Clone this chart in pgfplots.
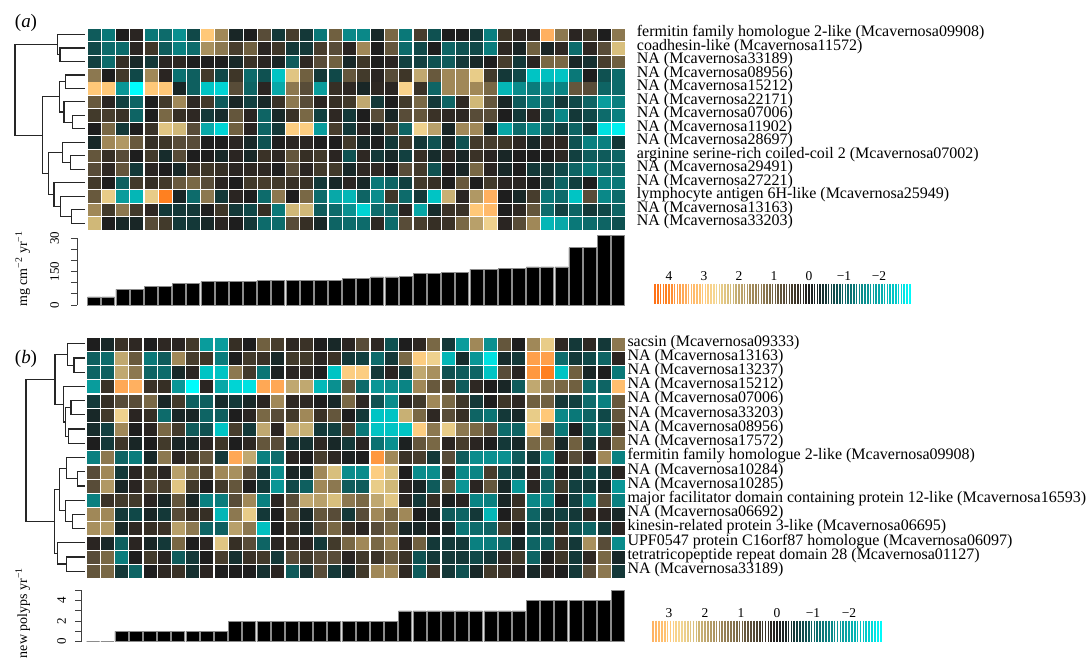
\documentclass[border=0pt]{standalone}
\usepackage{fontspec}
\setmainfont{Liberation Serif}
\usepackage{pgfplots}
\usepackage{pgfplotstable}
\pgfplotsset{compat=1.18}

\pgfplotsset{
 colormap={heat}{rgb255(0pt)=(0,255,255); rgb255(32pt)=(0,212,212); rgb255(52pt)=(0,196,196);
  rgb255(92pt)=(8,168,168); rgb255(132pt)=(10,144,144); rgb255(162pt)=(10,120,120);
  rgb255(192pt)=(14,100,100); rgb255(222pt)=(16,72,72); rgb255(242pt)=(20,56,56);
  rgb255(262pt)=(24,40,40); rgb255(292pt)=(30,30,30); rgb255(312pt)=(46,40,35);
  rgb255(332pt)=(62,54,40); rgb255(362pt)=(88,76,56); rgb255(392pt)=(112,96,64);
  rgb255(422pt)=(140,120,80); rgb255(452pt)=(160,136,88); rgb255(492pt)=(192,168,112);
  rgb255(512pt)=(208,184,120); rgb255(542pt)=(232,204,136); rgb255(562pt)=(245,215,148);
  rgb255(592pt)=(255,200,120); rgb255(642pt)=(255,176,96); rgb255(702pt)=(255,128,32);
  rgb255(738pt)=(255,110,20)},
 heat/.style={scale only axis, axis line style={draw=none}, xtick=\empty, major tick length=0pt,
  y dir=reverse, xmin=-0.5, xmax=37.5, point meta min=-2.92, point meta max=4.46,
  colormap name=heat, clip=false, yticklabel pos=right,
  yticklabel style={anchor=mid west, inner sep=0pt, font=\fontsize{16}{16}\selectfont}},
 cell/.style={scatter, only marks, mark=square*, point meta=explicit,
  scatter/use mapped color={draw=mapped color, fill=mapped color, line width=0.3pt}},
 dl/.style={black!85, line width=1.2pt, mark=none},
 dendro/.style={scale only axis, hide axis, y dir=reverse, clip=false, xmin=0},
 bars/.style={scale only axis, axis x line=none, axis y line*=left, clip=false,
  tick align=outside, major tick length=6pt,
  y axis line style={black!75, line width=0.8pt}, ytick style={black!75, line width=0.8pt},
  ylabel style={anchor=center, font=\fontsize{14}{14}\selectfont}},
 barplot/.style={ybar, bar width=13pt, fill=black, draw=black!45, line width=0.5pt},
 leg/.style={scale only axis, axis line style={draw=none}, ytick=\empty, major tick length=0pt,
  x dir=reverse, xmin=-2.92, ymin=-1, ymax=1, xticklabel pos=upper, clip=false,
  colormap name=heat, point meta min=-2.92, point meta max=4.46,
  xticklabel style={font=\fontsize{13.5}{13.5}\selectfont}},
 legplot/.style={scatter, only marks, mark=|, point meta=x,
  scatter/use mapped color={draw=mapped color, line width=1.7pt}},
}

\pgfplotstableread[header=false]{
-0.9 -1.3 0 0.15 -1.3 -1.1 -1.6 -0.7 3.0 1.6 -0.25 0 0.7 -0.5 0.5 -0.5 -1.3 1.0 -1.5 -1.5 -0.3 1.1 -1.3 0.5 -0.8 0 0 -0.5 -1.4 0.4 0.2 0.2 3.5 1.3 0.15 0.45 0 1.3
-0.7 -1.1 -1.1 0.15 0.4 -0.9 -1.4 -1.1 1.7 1.3 0.5 1.0 0.15 0.4 -0.5 -0.5 0.5 0.7 0.15 1.6 0 0.85 -1.1 -0.7 0 -1.0 -0.8 -0.7 -1.35 0.2 -0.2 1.0 -0.2 0.2 -1.1 0.2 0.7 2.3
-0.6 -1.1 0.3 -0.3 -0.5 0.15 0.2 0 0 0 -0.3 0.35 0.15 -0.25 -0.9 0.2 0.7 1.0 -0.3 0.4 0 0.15 -0.6 -0.6 -0.8 -0.9 -0.5 -0.3 0 0.5 -0.5 0.15 1.1 1.1 -0.25 -0.4 0.5 1.0
1.3 0 0.45 -0.7 1.6 0.15 -1.2 -0.95 0.45 -0.7 0.4 -1.1 -0.8 -2.4 2.4 1.0 -0.5 -0.7 0.85 0.45 0.15 0.7 0.4 2.0 0.9 1.6 1.6 2.5 0.45 -0.5 -0.7 -2.4 -2.35 -2.4 -1.3 0 -0.8 -1.1
3.0 3.0 -1.7 -2.9 3.0 3.0 -0.25 -0.95 -2.4 -2.6 0.7 -1.0 0.15 -2.0 1.3 0.7 -1.8 0.3 0.2 -0.25 0.2 0.15 2.8 0.35 -1.0 1.6 1.6 1.6 1.1 -2.2 -1.55 -1.35 -1.5 -1.45 0.85 0.7 -1.0 -1.1
0.9 0.15 -0.6 -1.0 0 0.45 1.6 0.2 0.45 -0.9 -0.25 -0.6 -0.3 0.35 1.3 0.7 0.15 0.3 0.45 2.0 -0.5 0 0.45 1.1 -0.5 -1.0 0.2 2.2 0.85 -0.25 -0.9 -1.3 -1.0 -0.5 -0.7 -1.0 -1.8 -1.4
0.45 0.5 0.35 -1.0 0 1.1 0.3 0.2 -0.5 -0.35 0.85 0.15 -1.0 -0.3 0.35 1.1 -0.6 0.2 -0.5 0 0.7 -0.25 0.7 0.85 0.35 0.2 0.2 0.7 0.7 0 -0.5 0.15 -0.8 -1.5 -0.5 -0.7 -1.1 -1.4
0 1.1 -0.5 0 0.35 2.4 2.2 0.7 -2.0 -2.6 1.0 0.15 -1.0 -0.5 2.9 2.9 -1.8 0.5 -0.5 0.15 -0.25 0.5 -1.0 2.6 1.9 -0.25 1.6 1.6 -0.25 -1.95 -1.1 -1.5 -0.9 -0.6 -1.0 -0.5 -2.7 -2.8
-0.3 1.6 1.8 0.9 0.3 0.4 0.7 0.7 0 0 0.15 -0.3 -0.8 0 0.15 0.15 0 0 0.45 -0.3 0 -0.5 0.45 -0.5 -0.8 -0.25 -0.8 0.45 0.5 0.4 0.2 -0.3 0.15 0.2 -0.8 -1.4 -1.4 -0.5
0.85 0.3 0.7 0 0.45 -0.35 0.7 0 0 -0.3 0.15 -0.3 0.35 0.2 0.85 0.3 0.45 0.15 -0.8 0.2 -0.5 -0.3 -0.6 0.3 -0.35 0.2 -0.25 0.35 0.15 -0.25 0 0 0 0.2 -0.6 -0.9 -0.9 -1.0
0.7 0.2 0.85 -0.5 0.15 0 -0.3 0.35 0.4 0.3 0.15 0.2 0.2 0 0.7 0.15 0.45 0.45 -0.3 0.2 0.2 0 0.7 0.45 -0.8 0 -0.25 1.1 0.15 -0.3 0 -0.5 -0.5 -0.7 -1.0 -1.3 -1.1 -1.1
0.45 0 -0.95 0.45 0.3 0.45 0.9 1.1 0.7 0.15 0 0.45 0.5 0.45 0.3 0.35 -0.5 -0.3 0.15 -0.3 -1.3 -1.0 -0.6 0.45 0.3 0 0.9 0 0.45 0.15 0.15 0 -0.5 -1.0 -0.6 0 -1.4 -1.3
0.9 2.5 -1.8 -2.2 2.5 4.1 -0.25 -1.1 1.3 -0.5 0.15 0 -1.1 1.3 0 1.1 -1.1 -2.0 -2.2 -1.0 -1.55 0.4 -1.1 -0.5 -2.4 2.1 0.15 1.8 3.5 0 -0.3 0.5 -1.3 -1.1 -2.4 0.7 -1.5 -1.1
1.6 0.45 1.3 0.45 0.2 -0.5 -0.5 -0.5 0 0.4 -0.5 -0.7 0.3 -1.3 2.2 2.2 -0.9 -1.1 -1.6 -2.6 -1.1 -1.0 0.15 -1.95 -0.35 0.35 0.35 3.0 3.3 0 0.2 0.85 -1.1 -0.6 -1.0 -0.5 -0.7 -1.0
2.2 0 -0.3 -0.25 0.7 0.45 -0.5 -0.5 -0.3 0.15 0 -0.5 -1.1 -1.1 0.7 0.3 -0.3 -1.0 -1.1 -1.1 0.2 -1.1 0.7 0.5 0.3 0.35 1.1 1.9 2.6 0.15 0.7 1.6 -2.2 -2.0 -1.3 -1.1 -1.0 -0.8
}\heatA

\pgfplotstableread[header=false]{
0 -0.3 0.35 0.2 0 0.2 0.15 0.45 -1.8 -1.8 0.3 0 1.0 0.5 0.2 0.35 0 -0.3 0.15 0.7 0.2 -0.8 0 0.2 1.1 -0.5 -1.8 1.6 -1.6 0.85 0 1.6 2.5 0.2 -0.5 0.2 -0.5 1.3
-0.95 -1.1 2.0 0.9 -1.3 -0.9 1.6 0.5 0.4 -1.35 0 0.45 0.35 -0.3 0.45 0.45 0.15 0.35 -0.5 -0.6 -1.1 -0.5 1.1 2.9 2.6 -2.2 -0.35 -1.7 -2.7 -0.35 -0.5 3.7 3.7 -1.1 -0.5 -0.7 -1.0 0.15
-1.0 -0.95 2.0 1.3 -1.0 -1.1 -0.3 0.15 -2.4 -2.4 1.3 0.45 -1.25 -0.1 0.15 0.2 0 -2.4 2.9 2.9 -0.5 0.15 -0.5 2.0 1.7 -0.8 -0.9 -1.0 -2.4 0.7 0.15 3.8 4.1 -2.4 1.0 -0.25 0 -1.3
-1.8 0.35 3.6 3.5 0.35 0.3 -1.7 -2.9 0.15 -2.0 -2.6 -2.7 3.6 3.6 2.0 2.0 -2.25 -1.6 0.85 -1.1 -1.7 -1.55 -1.45 1.6 0.9 0.45 -0.9 0.2 0 -0.25 -0.9 2.0 1.3 1.1 1.0 -1.1 -1.0 3.2
-0.5 0.3 0.7 0.7 1.1 -0.25 0.45 -0.95 -0.95 -0.35 -0.5 -0.3 0.15 1.6 0.2 0.2 0 -0.3 1.1 0.2 -0.8 -1.55 0.15 0.45 1.6 1.1 0.4 -0.5 0 0.4 0.2 1.0 1.0 -0.5 -0.6 -1.1 -1.4 0.9
-0.3 0.45 2.6 0.15 0.3 -1.1 -0.25 -0.25 -1.0 -0.95 0 0.15 1.1 0.7 0.45 1.6 0.35 0.85 0 -0.5 -2.4 -2.4 2.1 1.1 0.2 0.7 0.3 -1.0 -1.25 -0.5 -0.3 2.5 3.0 -1.5 -1.3 -1.0 -0.7 0.85
-0.35 -0.6 1.6 0 0.15 1.1 0.45 -0.9 -0.8 -2.4 0.5 -0.5 2.0 0.15 2.0 2.1 -0.5 -0.6 0.5 -1.3 -2.4 -2.4 -2.4 2.9 1.3 2.5 1.3 1.1 0.7 -1.1 -1.0 2.9 0.7 -1.3 0 -0.95 -1.1 0.5
0 -0.5 0.4 -0.25 0 0.45 -0.25 -0.25 0.15 0.4 0 0.2 0.85 0.7 -0.4 -0.4 0.2 -0.3 -0.5 0.15 -1.2 -1.6 -0.1 0.85 1.1 0.15 0.5 0.15 0 -0.5 -0.3 1.1 1.1 -0.3 1.0 -0.5 0.2 1.1
-1.4 1.3 -1.0 -1.35 -0.3 1.3 0.15 0.4 0.85 -0.5 3.6 2.0 -1.4 -1.1 0.15 0 0.5 0.2 -0.1 0 3.8 1.6 0.35 0.5 -0.5 0.7 -0.9 -1.55 -1.6 -1.6 -0.9 -0.5 -1.55 0.15 0.7 0.15 1.6 -1.4
0.7 1.6 -0.5 0.15 0.45 0.15 1.9 1.1 0.5 1.6 1.7 0.7 -0.5 -1.55 -0.25 -0.3 1.6 2.3 -1.55 -1.55 2.9 2.3 0 -1.55 -1.55 0.2 -1.5 -1.45 0.5 -0.7 -0.5 0.15 -0.9 0 -0.35 -0.8 -0.5 0.15
0.7 1.8 -0.25 0.15 0.7 0.5 2.4 0.45 0 0.45 0.85 0 -0.5 -1.7 -0.7 -0.95 1.6 1.3 -0.9 -0.9 2.5 2.2 0.15 -0.25 -0.9 0.85 -1.7 0.15 0.85 -0.3 -1.7 0.15 -1.0 0.45 -0.6 -0.5 -0.25 -1.7
-1.4 0.35 0.45 0.45 0.15 -0.25 0.85 -0.25 -1.4 -1.35 0.7 1.6 -1.4 0.15 0.7 2.0 1.9 2.3 1.3 1.1 2.0 2.4 0.15 -0.5 0.3 -0.1 0.15 -1.45 -1.4 -0.25 0.3 -1.5 -1.4 0 -0.6 -1.4 0.7 -1.4
1.6 1.6 -0.5 -0.7 -0.25 -0.5 0.7 0.3 0.3 -2.2 1.3 2.5 -0.5 0 0.85 -0.3 0.85 0.7 -0.5 0.7 1.6 1.1 1.6 0 -0.25 -0.9 -1.0 -0.5 -2.2 0 0.45 -1.0 -0.5 -0.6 -0.5 0.2 0.15 -0.3
1.7 1.8 -0.3 0.2 0.3 0.35 1.9 1.3 -1.0 -0.95 1.9 1.3 -2.35 0 0.35 -0.25 0.7 1.1 0.35 0.15 0.7 1.1 -0.25 -0.25 0 -0.25 -1.25 -1.1 -1.0 0.45 0 -0.7 -0.5 0.3 -0.8 -1.0 -0.5 0.15
0.15 -0.3 -0.95 0.15 -0.25 -0.5 1.1 0 0.15 2.4 0.3 0.7 -1.0 0.15 0.3 0.15 -0.5 0.45 1.1 1.6 1.1 1.6 0.15 1.0 -0.5 -0.5 -0.5 -1.4 -1.35 -1.0 -0.25 -1.0 -0.95 0.35 -0.5 1.7 0.7 -1.55
0.7 1.1 -1.35 0 0.45 0.15 -0.9 -0.5 0 0.5 -0.4 0.35 0.45 -0.5 0.7 0.45 0.7 0.7 0.15 0.45 0.35 0.85 0.35 -0.8 -0.5 -0.5 -0.5 -0.7 -0.5 0.2 0.45 -1.0 0 0.4 -0.5 0.2 1.1 -0.3
0.85 1.1 -0.5 -1.0 0 0.2 0.35 -0.4 0.15 0 0 0 -0.4 0.15 -0.9 -0.4 0.7 -0.5 -0.3 0.45 1.6 1.6 0.2 -0.9 0.35 -0.5 -0.8 -0.3 0.45 0.35 0.15 -0.3 0.15 0 -0.5 0.7 1.3 -0.5
}\heatB

\pgfplotstableread{
v z
4.40 0
4.32 0
4.24 0
4.16 0
4.08 0
4.00 0
3.92 0
3.84 0
3.76 0
3.68 0
3.60 0
3.52 0
3.44 0
3.36 0
3.28 0
3.20 0
3.12 0
3.04 0
2.96 0
2.88 0
2.80 0
2.72 0
2.64 0
2.56 0
2.48 0
2.40 0
2.32 0
2.24 0
2.16 0
2.08 0
2.00 0
1.92 0
1.84 0
1.76 0
1.68 0
1.60 0
1.52 0
1.44 0
1.36 0
1.28 0
1.20 0
1.12 0
1.04 0
0.96 0
0.88 0
0.80 0
0.72 0
0.64 0
0.56 0
0.48 0
0.40 0
0.32 0
0.24 0
0.16 0
0.08 0
0.00 0
-0.08 0
-0.16 0
-0.24 0
-0.32 0
-0.40 0
-0.48 0
-0.56 0
-0.64 0
-0.72 0
-0.80 0
-0.88 0
-0.96 0
-1.04 0
-1.12 0
-1.20 0
-1.28 0
-1.36 0
-1.44 0
-1.52 0
-1.60 0
-1.68 0
-1.76 0
-1.84 0
-1.92 0
-2.00 0
-2.08 0
-2.16 0
-2.24 0
-2.32 0
-2.40 0
-2.48 0
-2.56 0
-2.64 0
-2.72 0
-2.80 0
-2.88 0
}\legvals

\begin{document}
\begin{tikzpicture}[x=1pt,y=1pt]
\path[use as bounding box] (0,0) rectangle (1086,670);

% ---------------- panel (a) heatmap ----------------
\begin{axis}[heat, at={(87pt,440pt)}, anchor=south west, width=538pt, height=202.3pt,
  ymin=-0.5, ymax=14.5, ytick={0,...,14},
  yticklabel style={xshift=11.7pt},
  yticklabels={fermitin family homologue 2-like (Mcavernosa09908),
   coadhesin-like (Mcavernosa11572), NA (Mcavernosa33189), NA (Mcavernosa08956),
   NA (Mcavernosa15212), NA (Mcavernosa22171), NA (Mcavernosa07006),
   NA (Mcavernosa11902), NA (Mcavernosa28697),
   arginine serine-rich coiled-coil 2 (Mcavernosa07002), NA (Mcavernosa29491),
   NA (Mcavernosa27221), lymphocyte antigen 6H-like (Mcavernosa25949),
   NA (Mcavernosa13163), NA (Mcavernosa33203)}]
\pgfplotsinvokeforeach{0,...,37}{
  \addplot[cell, mark size=5.75pt, mark options={xscale=1.05}]
    table[x expr=#1, y expr=\coordindex, meta index=#1] {\heatA};
}
\end{axis}

% dendrogram (a)
\begin{axis}[dendro, at={(0pt,440pt)}, anchor=south west, width=87pt, height=202.3pt,
  xmax=87, ymin=-0.5, ymax=14.5]
\addplot[dl] coordinates {(85,1) (60,1) (60,2) (85,2)};
\addplot[dl] coordinates {(85,0) (57.5,0) (57.5,1.5) (60,1.5)};
\addplot[dl] coordinates {(85,3) (65.7,3) (65.7,4) (85,4)};
\addplot[dl] coordinates {(85,6) (72.3,6) (72.3,7) (85,7)};
\addplot[dl] coordinates {(85,5) (64,5) (64,6.5) (72.3,6.5)};
\addplot[dl] coordinates {(65.7,3.5) (59.3,3.5) (59.3,5.75) (64,5.75)};
\addplot[dl] coordinates {(85,9) (70.7,9) (70.7,10) (85,10)};
\addplot[dl] coordinates {(85,8) (62.3,8) (62.3,9.5) (70.7,9.5)};
\addplot[dl] coordinates {(85,13) (71.7,13) (71.7,14) (85,14)};
\addplot[dl] coordinates {(85,12) (60.7,12) (60.7,13.5) (71.7,13.5)};
\addplot[dl] coordinates {(85,11) (54,11) (54,12.75) (60.7,12.75)};
\addplot[dl] coordinates {(62.3,8.75) (48.3,8.75) (48.3,11.875) (54,11.875)};
\addplot[dl] coordinates {(59.3,4.625) (42.3,4.625) (42.3,10.3125) (48.3,10.3125)};
\addplot[dl] coordinates {(57.5,0.75) (15,0.75) (15,7.469) (42.3,7.469)};
\end{axis}

% bars (a)
\begin{axis}[bars, at={(77pt,365pt)}, anchor=south west, width=548pt, height=66.7pt,
  xmin=-1.206, xmax=37.5, ymin=0, ymax=300,
  ytick={0,50,...,300}, yticklabels={0,,,150,,,30},
  yticklabel style={xshift=-8.5pt, rotate=90, anchor=south, font=\fontsize{13}{13}\selectfont},
  ylabel={mg cm\textsuperscript{−2} yr\textsuperscript{−1}},
  ylabel style={at={(axis description cs:-0.099,0.54)}}]
\addplot[barplot] coordinates {(0,37) (1,37) (2,70) (3,70) (4,84) (5,84) (6,97) (7,97)
 (8,105) (9,105) (10,106) (11,106) (12,111) (13,111) (14,111) (15,111) (16,112) (17,112)
 (18,120) (19,120) (20,126) (21,126) (22,129) (23,142) (24,142) (25,148) (26,148)
 (27,160) (28,160) (29,165) (30,165) (31,172) (32,172) (33,172) (34,258) (35,258)
 (36,312) (37,312)};
\end{axis}

% legend (a)
\begin{axis}[leg, at={(652.9pt,366pt)}, anchor=south west, width=258.3pt, height=20pt,
  xmax=4.46, xtick={-2,...,4}, xticklabels={−2,−1,0,1,2,3,4}]
\addplot[legplot, mark size=10pt] table[x=v, y=z] {\legvals};
\end{axis}

% ---------------- panel (b) heatmap ----------------
\begin{axis}[heat, at={(86pt,91.7pt)}, anchor=south west, width=539pt, height=241.6pt,
  ymin=-0.5, ymax=16.5, ytick={0,...,16},
  yticklabel style={xshift=2.3pt},
  yticklabels={sacsin (Mcavernosa09333), NA (Mcavernosa13163), NA (Mcavernosa13237),
   NA (Mcavernosa15212), NA (Mcavernosa07006), NA (Mcavernosa33203),
   NA (Mcavernosa08956), NA (Mcavernosa17572),
   fermitin family homologue 2-like (Mcavernosa09908), NA (Mcavernosa10284),
   NA (Mcavernosa10285),
   major facilitator domain containing protein 12-like (Mcavernosa16593),
   NA (Mcavernosa06692), kinesin-related protein 3-like (Mcavernosa06695),
   UPF0547 protein C16orf87 homologue (Mcavernosa06097),
   tetratricopeptide repeat domain 28 (Mcavernosa01127), NA (Mcavernosa33189)}]
\pgfplotsinvokeforeach{0,...,37}{
  \addplot[cell, mark size=6.0pt]
    table[x expr=#1, y expr=\coordindex, meta index=#1] {\heatB};
}
\end{axis}

% dendrogram (b)
\begin{axis}[dendro, at={(0pt,91.7pt)}, anchor=south west, width=86pt, height=241.6pt,
  xmax=86, ymin=-0.5, ymax=16.5]
\addplot[dl] coordinates {(85,1) (74,1) (74,2) (85,2)};
\addplot[dl] coordinates {(85,0) (67.7,0) (67.7,1.5) (74,1.5)};
\addplot[dl] coordinates {(85,4) (71,4) (71,5) (85,5)};
\addplot[dl] coordinates {(85,6) (68.3,6) (68.3,7) (85,7)};
\addplot[dl] coordinates {(71,4.5) (65.7,4.5) (65.7,6.5) (68.3,6.5)};
\addplot[dl] coordinates {(85,3) (63.3,3) (63.3,5.5) (65.7,5.5)};
\addplot[dl] coordinates {(67.7,0.75) (55,0.75) (55,4.25) (63.3,4.25)};
\addplot[dl] coordinates {(85,9) (77.7,9) (77.7,10) (85,10)};
\addplot[dl] coordinates {(85,8) (66.7,8) (66.7,9.5) (77.7,9.5)};
\addplot[dl] coordinates {(85,12) (72.7,12) (72.7,13) (85,13)};
\addplot[dl] coordinates {(85,11) (65.7,11) (65.7,12.5) (72.7,12.5)};
\addplot[dl] coordinates {(66.7,8.75) (59.3,8.75) (59.3,11.75) (65.7,11.75)};
\addplot[dl] coordinates {(85,15) (66.7,15) (66.7,16) (85,16)};
\addplot[dl] coordinates {(85,14) (57.3,14) (57.3,15.5) (66.7,15.5)};
\addplot[dl] coordinates {(59.3,10.25) (54.3,10.25) (54.3,14.75) (57.3,14.75)};
\addplot[dl] coordinates {(55,2.5) (26,2.5) (26,12.5) (54.3,12.5)};
\end{axis}

% bars (b)
\begin{axis}[bars, at={(81.5pt,28.3pt)}, anchor=south west, width=543.5pt, height=51.5pt,
  xmin=-0.817, xmax=37.5, ymin=0, ymax=5,
  ytick={0,...,5}, yticklabels={0,,2,,4,},
  yticklabel style={xshift=-6pt, rotate=90, anchor=south, font=\fontsize{13}{13}\selectfont},
  ylabel={new polyps yr\textsuperscript{−1}},
  ylabel style={at={(axis description cs:-0.108,0.557)}}]
\addplot[barplot] coordinates {(0,0) (1,0) (2,1) (3,1) (4,1) (5,1) (6,1) (7,1) (8,1) (9,1)
 (10,2) (11,2) (12,2) (13,2) (14,2) (15,2) (16,2) (17,2) (18,2) (19,2) (20,2) (21,2)
 (22,3) (23,3) (24,3) (25,3) (26,3) (27,3) (28,3) (29,3) (30,3)
 (31,4) (32,4) (33,4) (34,4) (35,4) (36,4) (37,5)};
\end{axis}

% legend (b)
\begin{axis}[leg, at={(653.2pt,28.3pt)}, anchor=south west, width=228.9pt, height=21pt,
  xmax=3.44, xtick={-2,...,3}, xticklabels={−2,−1,0,1,2,3}]
\addplot[legplot, mark size=10.5pt, restrict x to domain=-3:3.45] table[x=v, y=z] {\legvals};
\end{axis}

\node[font=\fontsize{19}{19}\selectfont] at (26,647) {(\textit{a})};
\node[font=\fontsize{19}{19}\selectfont] at (26,311) {(\textit{b})};
\end{tikzpicture}
\end{document}
